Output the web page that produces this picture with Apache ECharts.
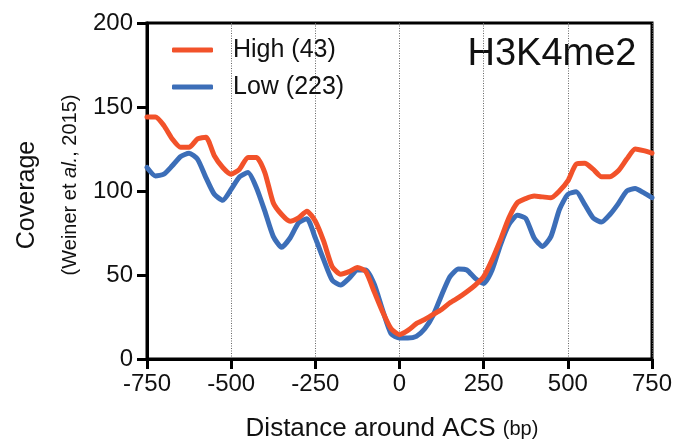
<!DOCTYPE html>
<html>
<head>
<meta charset="utf-8">
<script src="https://cdn.jsdelivr.net/npm/echarts@6/dist/echarts.min.js"></script>
<style>
html,body{margin:0;padding:0;background:#fff;}
#chart{width:691px;height:448px;}
</style>
</head>
<body>
<div id="chart"></div>
<script>
// Distance around ACS (bp), every 25 bp
var positions = [];
for (var p = -750; p <= 750; p += 25) positions.push(p);

var highName = 'High (43)';
var lowName = 'Low (223)';

var highValues = [144,144,139,131,126,126,131,132,121,114,
  110,113,120,120,111,93,86,82,84,88,
  82,70,55,50.5,52,54.5,52,40,28,18,
  14.5,17,21,23.5,26.5,29.5,33.5,36.5,40,44,
  49,59,71,84,93,95.5,97,96.5,96,100,
  106,116,116.5,113,108.5,108.5,112,119,125,124,
  122.5];

var lowValues = [114,109,110,115,120.5,122.5,119,108,98,94.5,
  101,108.5,111,102,88,73,66.5,72,81,83.5,
  72,59,47,44,48,53,53,44.5,29,15,
  12.5,12.5,13.5,18,26,38,49,53.5,53,48,
  45,53,68,80,85.5,83.7,72,67,73,89,
  98,99.5,92,84,81.5,86,92.5,100,101.5,99,
  96];

var xTicks = [-750,-500,-250,0,250,500,750];
var yTicks = [0,50,100,150,200];

function pairs(vals){ return positions.map(function(x,i){ return [x, vals[i]]; }); }

var FONT = 'Liberation Sans, Arial, Helvetica, sans-serif';
var chart = echarts.init(document.getElementById('chart'));
chart.setOption({
  animation: false,
  backgroundColor: '#fff',
  grid: {left: 147, right: 39, top: 23, bottom: 89, show: true, borderColor: '#000', borderWidth: 3},
  xAxis: {
    type: 'value', min: -750, max: 750, interval: 250,
    axisLine: {show: true, onZero: false, lineStyle: {color: '#000', width: 3}},
    axisTick: {show: true, inside: false, length: 10, lineStyle: {color: '#000', width: 3}},
    axisLabel: {color: '#111', fontSize: 24, fontFamily: FONT, margin: 13,
      formatter: function(v){ return xTicks.indexOf(v) >= 0 ? String(v) : ''; }},
    splitLine: {show: true, lineStyle: {color: '#666', width: 1, type: [1, 1.5]}}
  },
  yAxis: {
    type: 'value', min: 0, max: 200, interval: 50,
    axisLine: {show: true, onZero: false, lineStyle: {color: '#000', width: 3}},
    axisTick: {show: true, inside: false, length: 10, lineStyle: {color: '#000', width: 3}},
    axisLabel: {color: '#111', fontSize: 24, fontFamily: FONT, margin: 14,
      formatter: function(v){ return yTicks.indexOf(v) >= 0 ? String(v) : ''; }},
    splitLine: {show: false}
  },
  legend: {
    orient: 'vertical', left: 172, top: 37, itemGap: 11, padding: 0,
    icon: 'roundRect', itemWidth: 41, itemHeight: 5,
    textStyle: {fontSize: 25, lineHeight: 26, fontFamily: FONT, color: '#111', padding: [0,0,0,15]},
    data: [highName, lowName]
  },
  series: [
    {name: lowName, type: 'line', data: pairs(lowValues), showSymbol: false, smooth: 0.2,
      lineStyle: {color: '#3C6EB8', width: 5, join: 'round', cap: 'round'}, itemStyle: {color: '#3C6EB8'}, z: 2},
    {name: highName, type: 'line', data: pairs(highValues), showSymbol: false, smooth: 0.2,
      lineStyle: {color: '#F2522A', width: 5, join: 'round', cap: 'round'}, itemStyle: {color: '#F2522A'}, z: 3}
  ],
  graphic: [
    {type: 'text', x: 552, y: 55, style: {text: 'H3K4me2', font: '38px ' + FONT, fill: '#111', align: 'center', verticalAlign: 'middle'}},
    {type: 'text', x: 27, y: 195, rotation: Math.PI/2, style: {text: 'Coverage', font: '25px ' + FONT, fill: '#111', align: 'center', verticalAlign: 'middle'}},
    {type: 'text', x: 70, y: 185, rotation: Math.PI/2,
      style: {
        rich: {n: {font: '20px ' + FONT, fill: '#111'}, i: {font: 'italic 20px ' + FONT, fill: '#111'}},
        text: '{n|(Weiner et }{i|al.}{n|, 2015)}', align: 'center', verticalAlign: 'middle'}},
    {type: 'text', x: 392, y: 429,
      style: {
        rich: {a: {font: '26px ' + FONT, fill: '#111'}, b: {font: '20px ' + FONT, fill: '#111'}},
        text: '{a|Distance around ACS }{b|(bp)}', align: 'center', verticalAlign: 'middle'}}
  ]
});
</script>
</body>
</html>
